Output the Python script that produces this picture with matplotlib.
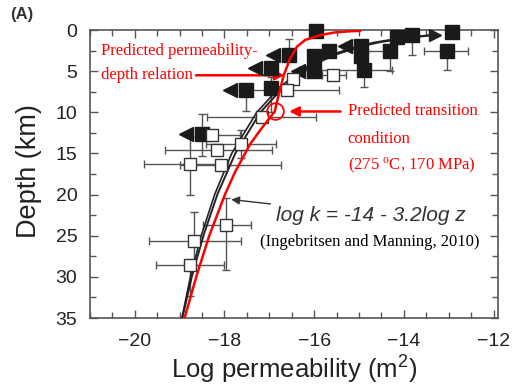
import numpy as np
import matplotlib
matplotlib.use("Agg")
import matplotlib.pyplot as plt
from matplotlib.ticker import MultipleLocator

plt.rcParams['font.family'] = ['Liberation Sans', 'DejaVu Sans']
plt.rcParams['mathtext.fontset'] = 'custom'
plt.rcParams['mathtext.rm'] = 'Liberation Sans'

# open squares (log k, depth) and the ends of their bars
open_k = [-16.47, -16.6, -15.59, -17.16, -18.27, -17.63, -18.17, -18.78, -18.07, -17.97, -18.67, -18.77]
open_z = [5.9, 7.3, 5.5, 10.6, 12.8, 13.8, 14.6, 16.3, 16.4, 23.7, 25.7, 28.6]
open_klo = [-16.47, -17.5, -15.82, -18.4, -18.45, -18.41, -19.33, -19.8, -19.0, -18.49, -19.69, -19.52]
open_khi = [-16.47, -15.45, -15.3, -15.95, -17.65, -16.85, -16.95, -17.93, -16.75, -17.41, -17.63, -18.0]
open_zlo = [5.9, 7.3, 5.5, 10.6, 12.8, 12.1, 14.6, 13.0, 16.4, 20.4, 22.1, 28.6]
open_zhi = [5.9, 7.3, 5.5, 10.6, 12.8, 15.5, 14.6, 20.0, 16.4, 29.2, 28.5, 32.3]

# filled squares, arrow = upper bound (triangle to the left)
fill_k = [-16.56, -16.96, -17.52, -16.96, -18.5, -15.95, -16.0, -16.0, -15.67, -14.96, -14.96,
          -14.89, -14.3, -14.16, -13.82, -13.04, -12.93]
fill_z = [3.0, 4.6, 7.3, 7.1, 12.6, 0.1, 3.1, 5.0, 2.6, 2.0, 3.1,
          4.8, 2.6, 0.8, 0.6, 2.6, 0.3]
fill_arrow = [1, 1, 1, 0, 1, 0, 0, 1, 0, 1, 0,
              0, 0, 0, 0, 0, 0]
fill_klo = [-16.56, -16.96, -17.52, -16.96, -18.5, -15.95, -16.0, -16.0, -15.67, -14.96, -14.96,
            -16.33, -15.0, -14.16, -13.82, -13.56, -12.93]
fill_khi = [-16.56, -16.96, -17.52, -16.96, -18.5, -15.95, -16.0, -16.0, -15.67, -14.96, -14.96,
            -14.27, -14.3, -14.16, -13.82, -12.56, -12.93]
fill_zlo = [1.1, 4.6, 7.3, 5.7, 10.2, 0.1, 3.1, 5.0, 2.6, 2.0, 3.1,
            4.8, 2.6, 0.8, 0.6, 2.6, 0.3]
fill_zhi = [3.0, 4.6, 9.8, 10.0, 15.3, 0.1, 4.3, 5.0, 2.6, 2.0, 3.1,
            6.9, 5.0, 0.8, 3.0, 4.8, 0.3]

# Ingebritsen & Manning (2010) curve (drawn as a double line)
im_z = [0.6, 1.0, 1.5, 2.0, 3.0, 4.0, 5.0, 7.0, 10.0, 15.0, 20.0, 25.0, 30.0, 35.0]
im_k = [-13.3, -14.0, -14.56, -14.96, -15.53, -15.93, -16.24, -16.7, -17.2, -17.76, -18.16, -18.47, -18.73, -18.94]
im2_k = [-13.4, -14.1, -14.66, -15.05, -15.62, -16.02, -16.32, -16.78, -17.28, -17.84, -18.22, -18.52, -18.76, -18.95]

# predicted permeability-depth relation (red)
red_z = [0.1, 0.15, 0.3, 0.6, 1.2, 2.0, 3.5, 5.5, 7.0, 8.5, 9.9, 12.0, 13.8, 17.2, 20.0, 25.0, 30.0, 35.0]
red_k = [-14.98, -15.2, -15.55, -15.85, -16.2, -16.38, -16.54, -16.68, -16.75, -16.82, -16.88,
         -17.18, -17.42, -17.76, -17.99, -18.34, -18.63, -18.89]

fig = plt.figure(figsize=(5.14, 3.85), dpi=100)
ax = fig.add_axes([0.175, 0.174, 0.794, 0.748])

gray = '#555555'
ok = np.array(open_k); oz = np.array(open_z)
ax.errorbar(ok, oz, xerr=[ok - np.array(open_klo), np.array(open_khi) - ok],
            yerr=[oz - np.array(open_zlo), np.array(open_zhi) - oz],
            fmt='none', ecolor=gray, elinewidth=1, capsize=3, capthick=1, zorder=2)
fk = np.array(fill_k); fz = np.array(fill_z)
ax.errorbar(fk, fz, xerr=[fk - np.array(fill_klo), np.array(fill_khi) - fk],
            yerr=[fz - np.array(fill_zlo), np.array(fill_zhi) - fz],
            fmt='none', ecolor=gray, elinewidth=1, capsize=3, capthick=1, zorder=2)

ax.plot(im_k, im_z, color='#222222', lw=1.4, zorder=3)
ax.plot(im2_k, im_z, color='#222222', lw=1.2, zorder=3)
ax.plot(im_k[0], im_z[0], marker='>', color='#222222', ms=9, zorder=3, clip_on=False)

arr = np.array(fill_arrow) == 1
ax.plot(fk[arr] - 0.36, fz[arr], ls='none', marker='<', ms=10.5, color='#1a1a1a', zorder=4)
ax.plot(fk, fz, ls='none', marker='s', ms=10.5, color='#1a1a1a', mec='#1a1a1a', zorder=5, clip_on=False)
ax.plot(ok, oz, ls='none', marker='s', ms=9, mfc='white', mec='#333333', mew=1, zorder=5)

ax.plot(red_k, red_z, color='red', lw=1.8, zorder=6)
ax.plot(red_k[10], red_z[10], ls='none', marker='o', ms=12, mfc='none', mec='red', mew=1.3, zorder=7)

ax.set_xlim(-21, -11.9)
ax.set_ylim(35, 0)
ax.xaxis.set_major_locator(MultipleLocator(2))
ax.xaxis.set_minor_locator(MultipleLocator(0.5))
ax.yaxis.set_major_locator(MultipleLocator(5))
ax.yaxis.set_minor_locator(MultipleLocator(2.5))
ax.tick_params(which='both', direction='in', top=True, right=True, color=gray, width=1)
ax.tick_params(which='major', length=6, labelsize=14, labelcolor='#222222')
ax.tick_params(axis='x', which='major', pad=11)
ax.tick_params(axis='y', which='major', pad=9)
ax.tick_params(which='minor', length=4)
for s in ax.spines.values():
    s.set_color(gray)
    s.set_linewidth(1.2)

ax.set_xlabel('Log permeability (m$^2$)', fontsize=18.5, color='#222222')
ax.set_ylabel('Depth (km)', fontsize=19.5, color='#222222')
ax.xaxis.set_label_coords(0.5, -0.12)
ax.yaxis.set_label_coords(-0.118, 0.51)

serif = ['Liberation Serif', 'DejaVu Serif']
ax.text(-20.75, 2.5, 'Predicted permeability-', color='red', fontsize=12, family=serif, va='center')
ax.text(-20.75, 5.5, 'depth relation', color='red', fontsize=12, family=serif, va='center')
ax.annotate('', xy=(-16.6, 5.5), xytext=(-18.7, 5.5),
            arrowprops=dict(arrowstyle='-|>', color='red', lw=1.8, mutation_scale=14))
ax.annotate('', xy=(-16.62, 9.9), xytext=(-15.35, 9.9),
            arrowprops=dict(arrowstyle='-|>', color='red', lw=1.8, mutation_scale=14))
ax.text(-15.25, 9.9, 'Predicted transition', color='red', fontsize=12, family=serif, va='center')
ax.text(-15.25, 13.3, 'condition', color='red', fontsize=12, family=serif, va='center')
ax.text(-15.25, 16.4, '(275 $\\mathregular{^{o}}$C, 170 MPa)', color='red', fontsize=12,
        family=serif, va='center')

ax.annotate('log k = -14 - 3.2log z', xy=(-17.85, 20.6), xytext=(-16.85, 22.5),
            fontsize=15, style='italic', color='#333333', va='center',
            arrowprops=dict(arrowstyle='-|>', color='#333333', lw=1, mutation_scale=12,
                            shrinkA=2, shrinkB=0))
ax.text(-17.2, 25.8, '(Ingebritsen and Manning, 2010)', fontsize=12, family=serif,
        color='black', va='center')

fig.text(0.02, 0.95, '(A)', fontsize=12, fontweight='bold', color='#333333')

fig.savefig('out.png', dpi=100)
